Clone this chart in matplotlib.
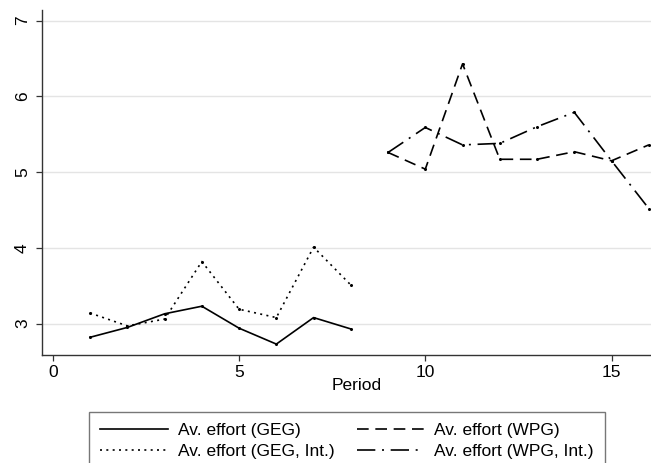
import matplotlib.pyplot as plt
from matplotlib.lines import Line2D

plt.rcParams["font.family"] = ["Liberation Sans", "DejaVu Sans"]

# average effort per period, by treatment
periods_geg = [1, 2, 3, 4, 5, 6, 7, 8]
effort_geg = [2.82, 2.95, 3.13, 3.23, 2.94, 2.73, 3.08, 2.93]
effort_geg_int = [3.14, 2.97, 3.06, 3.82, 3.19, 3.08, 4.01, 3.51]

periods_wpg = [9, 10, 11, 12, 13, 14, 15, 16]
effort_wpg = [5.26, 5.04, 6.43, 5.17, 5.17, 5.27, 5.15, 5.36]
effort_wpg_int = [5.26, 5.59, 5.36, 5.38, 5.60, 5.79, 5.15, 4.52]

x_ticks = [0, 5, 10, 15]
y_ticks = [3, 4, 5, 6, 7]

labels = [
    "Av. effort (GEG)",
    "Av. effort (GEG, Int.)",
    "Av. effort (WPG)",
    "Av. effort (WPG, Int.)",
]

W, H = 651, 463
fs = 12.5
fig = plt.figure(figsize=(W / 100, H / 100), dpi=100)
ax = fig.add_axes([41.7 / W, 1 - 355.3 / H, 1 - 41.7 / W, (355.3 - 10) / H])

lw = 1.2
styles = {
    "solid": dict(linestyle="-"),
    "dot": dict(linestyle=(0, (1.2, 2.6))),
    "dash": dict(linestyle=(0, (7, 4))),
    "dashdot": dict(linestyle=(0, (11, 4, 1.2, 4))),
}

mk = dict(color="black", lw=lw, marker="o", ms=1.2)
ax.plot(periods_geg, effort_geg, **mk, **styles["solid"])
ax.plot(periods_geg, effort_geg_int, **mk, **styles["dot"])
ax.plot(periods_wpg, effort_wpg, **mk, **styles["dash"])
ax.plot(periods_wpg, effort_wpg_int, **mk, **styles["dashdot"])

ax.set_xlim(-0.3, 16.06)
ax.set_ylim(2.582, 7.141)
ax.set_xticks(x_ticks)
ax.set_yticks(y_ticks)
ax.grid(axis="y", color="#e4e4e4", lw=1.0)
ax.set_axisbelow(True)

for side in ("top", "right"):
    ax.spines[side].set_visible(False)
for side in ("left", "bottom"):
    ax.spines[side].set_linewidth(1.0)
    ax.spines[side].set_color("#333333")

ax.tick_params(axis="both", length=4.5, width=0.9, color="#333333", labelsize=fs)
ax.tick_params(axis="x", pad=2.5)
ax.tick_params(axis="y", pad=4.0, labelrotation=90)
plt.setp(ax.get_yticklabels(), va="center", ha="right")

ax.set_xlabel("Period", fontsize=fs)
ax.xaxis.set_label_coords((357 - 41.7) / (W - 41.7), -(386 - 355.3) / (355.3 - 10))
ax.xaxis.label.set_va("center")

handles = [
    Line2D([], [], color="black", lw=lw, **styles["solid"]),
    Line2D([], [], color="black", lw=lw, **styles["dot"]),
    Line2D([], [], color="black", lw=lw, **styles["dash"]),
    Line2D([], [], color="black", lw=lw, **styles["dashdot"]),
]
leg = fig.legend(
    handles,
    labels,
    ncol=2,
    loc="upper left",
    bbox_to_anchor=(89 / W, 1 - 412 / H),
    frameon=True,
    fancybox=False,
    fontsize=fs,
    handlelength=3.9,
    handletextpad=0.55,
    columnspacing=1.3,
    labelspacing=0.3,
    borderpad=0.65,
    borderaxespad=0,
)
leg.get_frame().set_edgecolor("#555555")
leg.get_frame().set_linewidth(1.0)

fig.savefig("out.png", dpi=100)
